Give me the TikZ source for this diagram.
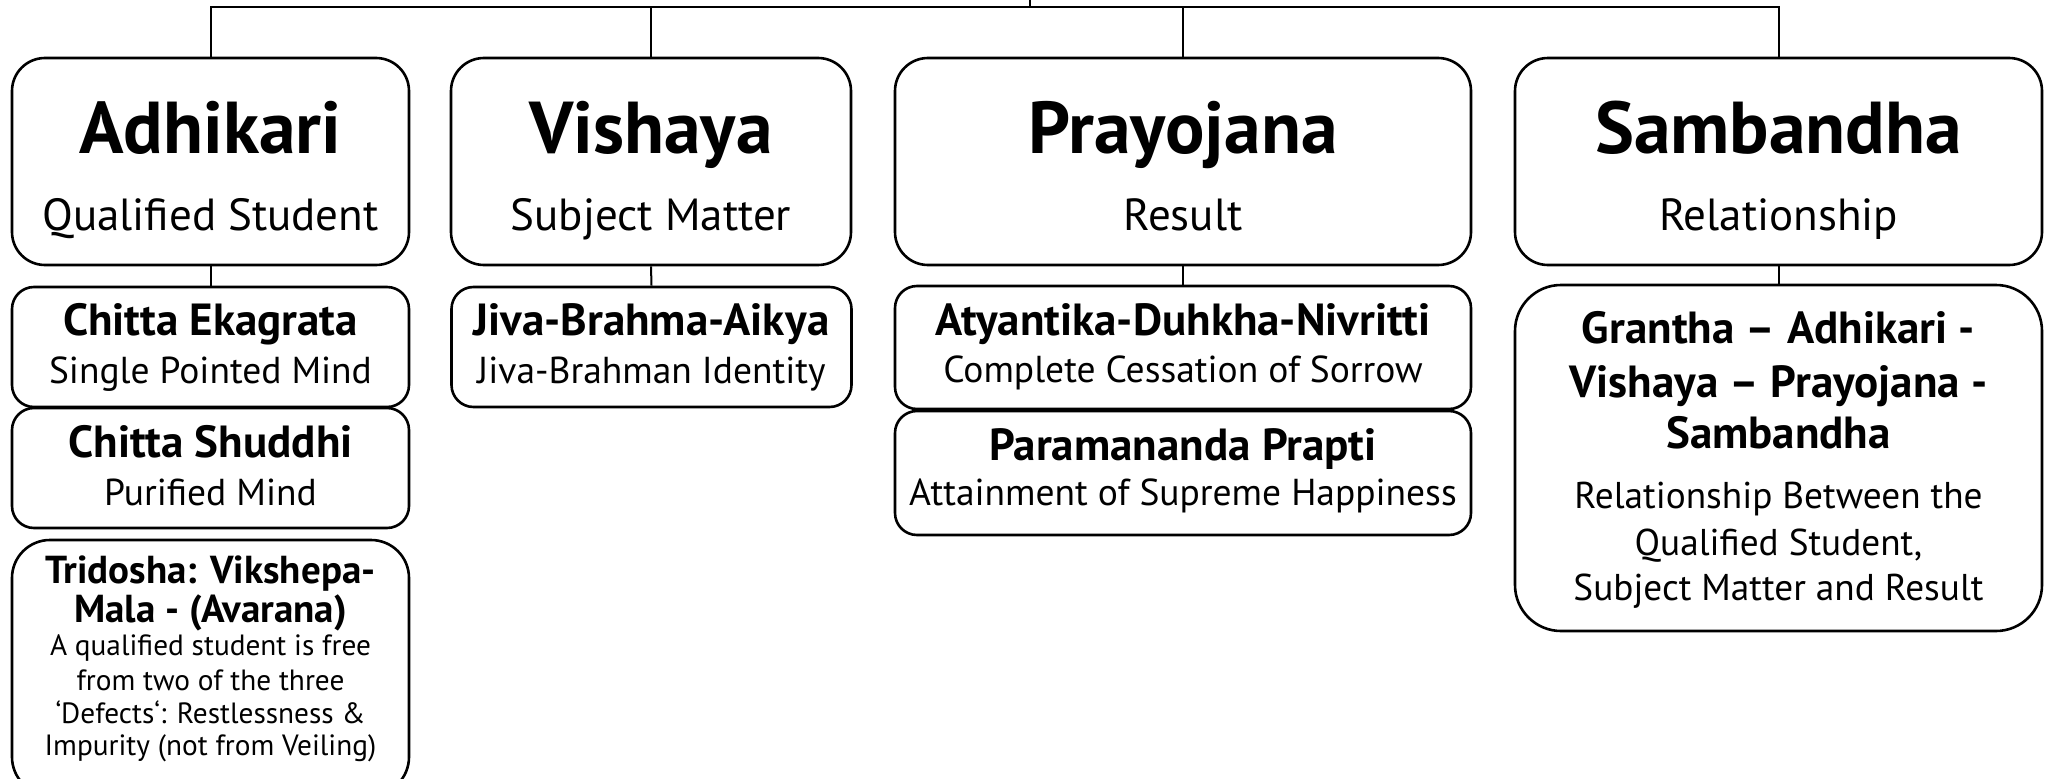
\documentclass[tikz,border=0pt]{standalone}
\usepackage{fontspec}
\setmainfont{PT Sans}
\begin{document}
\begin{tikzpicture}[x=1pt,y=-1pt,
  box/.style={draw, line width=2.6pt, rounded corners=#1, inner sep=0pt},
  box/.default=22pt,
  wire/.style={draw, line width=2pt},
  txt/.style={anchor=base, inner sep=0pt},
  hbig/.style={txt, font=\fontsize{73.5}{80}\selectfont\bfseries},
  sbig/.style={txt, font=\fontsize{45}{50}\selectfont},
  hmid/.style={txt, font=\fontsize{45}{50}\selectfont\bfseries},
  smid/.style={txt, font=\fontsize{37.5}{40}\selectfont},
  htri/.style={txt, font=\fontsize{39}{42}\selectfont\bfseries},
  stri/.style={txt, font=\fontsize{29.3}{33}\selectfont},
  sgra/.style={txt, font=\fontsize{37.3}{40}\selectfont}]
\useasboundingbox (0,0) rectangle (2057,779);

% top-level boxes
\node[box=33pt, minimum width=397pt, minimum height=207pt] (adh) at (210.5,161.5) {};
\node[box=33pt, minimum width=400pt, minimum height=207pt] (vis) at (651,161.5) {};
\node[box=33pt, minimum width=576pt, minimum height=207pt] (pra) at (1183,161.5) {};
\node[box=33pt, minimum width=527pt, minimum height=207pt] (sam) at (1778.5,161.5) {};

% second-level boxes
\node[box, minimum width=397pt, minimum height=120pt] (ce) at (210.5,347) {};
\node[box, minimum width=397pt, minimum height=120pt] (cs) at (210.5,468) {};
\node[box=38pt, minimum width=397pt, minimum height=255pt] (tri) at (210.5,667.5) {};
\node[box, minimum width=400pt, minimum height=120pt] (jba) at (651.5,347) {};
\node[box, minimum width=576pt, minimum height=123pt] (aty) at (1183,347.5) {};
\node[box, minimum width=576pt, minimum height=124pt] (par) at (1183,473) {};
\node[box=46pt, minimum width=527pt, minimum height=346pt] (gra) at (1778.5,458) {};

% connectors
\coordinate (root) at (1030,-2);
\coordinate (hub) at (1030,6.7);
\draw[wire] (root) -- (hub);
\draw[wire] (adh.north) |- (hub) -| (sam.north);
\draw[wire] (vis.north) -- (vis.north |- hub);
\draw[wire] (pra.north) -- (pra.north |- hub);
\draw[wire] (adh.south) -- (ce.north);
\draw[wire] (vis.south) -- (jba.north);
\draw[wire] (pra.south) -- (aty.north);
\draw[wire] (sam.south) -- (gra.north);

% texts: top level
\node[hbig] (t-adh) at (210.5,153) {Adhikari};
\node[sbig] (s-adh) at (210.5,230) {Qualified Student};
\node[hbig] (t-vis) at (651,153) {Vishaya};
\node[sbig] (s-vis) at (651,230) {Subject Matter};
\node[hbig] (t-pra) at (1183,153) {Prayojana};
\node[sbig] (s-pra) at (1183,230) {Result};
\node[hbig] (t-sam) at (1778.5,153) {Sambandha};
\node[sbig] (s-sam) at (1778.5,230) {Relationship};

% texts: second level
\node[hmid] (t-ce) at (210.5,335) {Chitta Ekagrata};
\node[smid] (s-ce) at (210.5,383) {Single Pointed Mind};
\node[hmid] (t-cs) at (210.5,457) {Chitta Shuddhi};
\node[smid] (s-cs) at (210.5,505) {Purified Mind};
\node[htri] (t-tri1) at (210.5,583) {Tridosha: Vikshepa-};
\node[htri] (t-tri2) at (210.5,622) {Mala - (Avarana)};
\node[stri] (s-tri1) at (210.5,655) {A qualified student is free};
\node[stri] (s-tri2) at (210.5,690) {from two of the three};
\node[stri] (s-tri3) at (210.5,723) {‘Defects‘: Restlessness \&};
\node[stri] (s-tri4) at (210.5,755) {Impurity (not from Veiling)};
\node[hmid] (t-jba) at (651.5,335) {Jiva-Brahma-Aikya};
\node[smid] (s-jba) at (651.5,383) {Jiva-Brahman Identity};
\node[hmid] (t-aty) at (1183,335) {Atyantika-Duhkha-Nivritti};
\node[smid] (s-aty) at (1183,382) {Complete Cessation of Sorrow};
\node[hmid] (t-par) at (1183,460) {Paramananda Prapti};
\node[smid] (s-par) at (1183,505) {Attainment of Supreme Happiness};
\node[hmid] (t-gra1) at (1778.5,343) {Grantha – Adhikari -};
\node[hmid] (t-gra2) at (1778.5,397) {Vishaya – Prayojana -};
\node[hmid] (t-gra3) at (1778.5,448) {Sambandha};
\node[sgra] (s-gra1) at (1778.5,508) {Relationship Between the};
\node[sgra] (s-gra2) at (1778.5,555) {Qualified Student,};
\node[sgra] (s-gra3) at (1778.5,600) {Subject Matter and Result};
\end{tikzpicture}
\end{document}
